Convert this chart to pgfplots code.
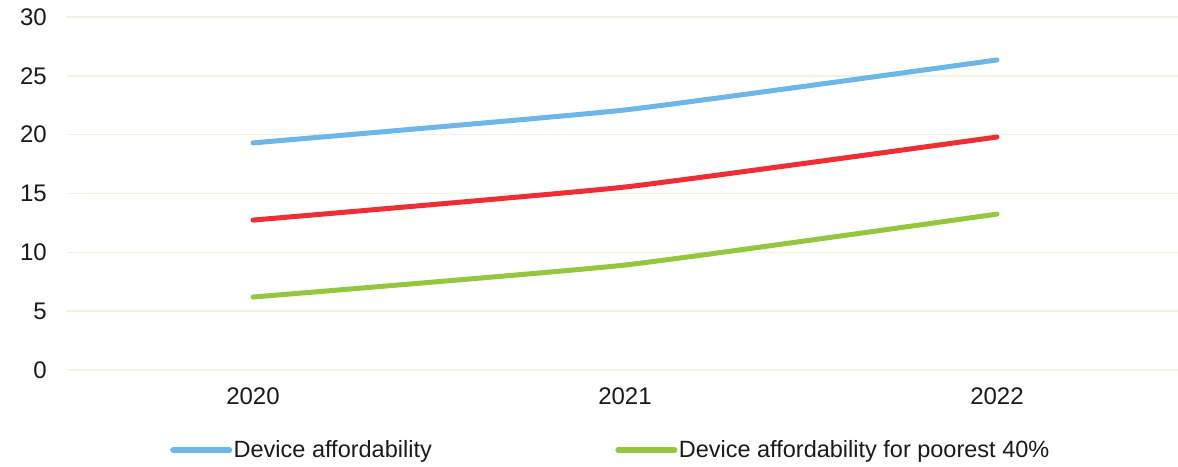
\documentclass[border=0pt]{standalone}
\usepackage{fontspec}
\setmainfont{Liberation Sans}
\usepackage{pgfplots}
\pgfplotsset{compat=1.18}
\definecolor{cblue}{HTML}{6DB6E8}
\definecolor{cred}{HTML}{EE2E34}
\definecolor{cgreen}{HTML}{93C73E}
\definecolor{cgrid}{HTML}{EEF4E0}
\definecolor{ctext}{HTML}{1A1A1A}
\begin{document}
\begin{tikzpicture}[x=1pt,y=1pt]
\path[use as bounding box] (0,0) rectangle (1178,466);
\clip (0,0) rectangle (1178,466);
\begin{axis}[
  at={(67pt,96pt)}, anchor=south west,
  scale only axis, width=1116pt, height=353pt,
  xmin=-0.5, xmax=2.5, ymin=0, ymax=30,
  xtick={0,1,2}, xticklabels={2020,2021,2022},
  ytick={0,5,...,30},
  ymajorgrids, grid style={cgrid, line width=1.5pt},
  axis line style={draw=none}, major tick length=0pt,
  tick label style={font=\fontsize{24}{28}\selectfont, text=ctext},
  /pgf/number format/assume math mode=true,
  yticklabel style={xshift=-16.7pt},
  xticklabel style={yshift=-14pt},
  clip=false,
  legend columns=2,
  legend style={draw=none, fill=none, at={(rel axis cs:0.0923,-0.2266)}, anchor=west,
    font=\fontsize{23.5}{28}\selectfont, text=ctext, inner sep=0pt,
    nodes={inner xsep=1.5pt},
    /tikz/every even column/.append style={column sep=182pt},
    /tikz/every odd column/.append style={column sep=0pt}},
  legend image code/.code={\draw[#1, line cap=round, line width=6pt] (0pt,0pt) -- (56pt,0pt);},
]
\addplot[cblue, line width=5pt, line cap=round, smooth, tension=0.25] coordinates {(0,19.3) (1,22.1) (2,26.35)};
\addlegendentry{Device affordability}
\addplot[cgreen, line width=5pt, line cap=round, smooth, tension=0.25] coordinates {(0,6.2) (1,8.92) (2,13.25)};
\addlegendentry{Device affordability for poorest 40\%}
\addplot[cred, line width=5pt, line cap=round, smooth, tension=0.25, forget plot] coordinates {(0,12.74) (1,15.55) (2,19.8)};
\end{axis}
\end{tikzpicture}
\end{document}
